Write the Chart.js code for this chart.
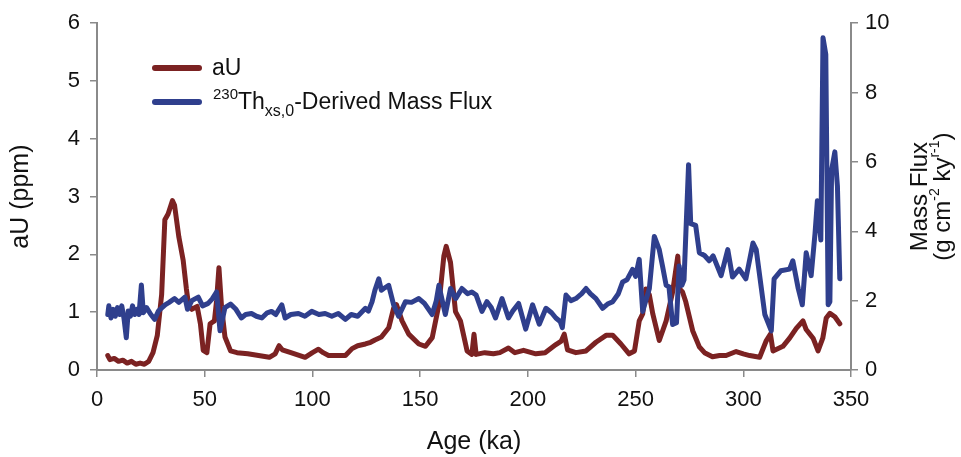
<!DOCTYPE html>
<html>
<head>
<meta charset="utf-8">
<script src="https://cdn.jsdelivr.net/npm/chart.js@4.4.1/dist/chart.umd.min.js"></script>
<style>
  html, body { margin: 0; padding: 0; background: #fff; }
  #wrap { width: 961px; height: 457px; }
</style>
</head>
<body>
<div id="wrap"><canvas id="chart" width="961" height="457"></canvas></div>
<script>
// aU record (ppm) vs age (ka)
const auAge = [5, 6, 8, 10, 12, 14, 16, 18, 20, 22, 24, 26, 28, 30, 31.5, 33, 35, 36, 38, 40,
  41.5, 42.5, 44, 46.5, 48, 49.3, 51, 52.5, 54.5, 55.5, 56.6, 57.8, 59.4, 62, 65, 70, 75, 80, 82.7, 84.5,
  86, 90, 96.6, 100, 102.8, 105, 107.5, 112, 115.3, 118.4, 121, 124.6, 127, 129, 132, 135.4, 137.7, 139, 141.6, 144.7,
  149.4, 152.5, 155.6, 158.7, 161, 162.1, 164.1, 166.4, 168.7, 171.8, 174, 175, 176, 180, 184, 187, 191, 194, 198, 203.7,
  208, 213, 215.5, 216.9, 218.4, 222.3, 227, 231.6, 236.3, 239.4, 243.2, 247, 249.5, 251.7, 253.3, 254.8, 256.4, 258, 261, 264.2,
  267.2, 269.6, 270.5, 271.8, 273.3, 276.5, 279.6, 282, 285.7, 289, 292, 296.7, 300, 303, 307.6, 310.7, 312.6, 313.8, 318.4, 321.5,
  324.6, 327.7, 329.2, 332.4, 334.7, 336.9, 338.5, 340.2, 342.5, 344.8];
const auVal = [0.25, 0.18, 0.2, 0.15, 0.17, 0.12, 0.15, 0.1, 0.12, 0.1, 0.15, 0.3, 0.6, 1.3, 2.6, 2.7, 2.93, 2.85, 2.3, 1.9,
  1.4, 1.13, 1.05, 1.1, 0.8, 0.34, 0.3, 0.8, 0.85, 1.2, 1.77, 1.1, 0.57, 0.33, 0.3, 0.28, 0.25, 0.22, 0.28, 0.42,
  0.35, 0.3, 0.22, 0.3, 0.36, 0.3, 0.25, 0.25, 0.25, 0.37, 0.42, 0.45, 0.48, 0.52, 0.57, 0.73, 1.07, 1.13, 0.85, 0.62,
  0.45, 0.41, 0.56, 1.13, 1.97, 2.14, 1.86, 1.01, 0.85, 0.33, 0.27, 0.62, 0.27, 0.3, 0.28, 0.3, 0.38, 0.3, 0.34, 0.28,
  0.3, 0.44, 0.5, 0.62, 0.35, 0.3, 0.33, 0.48, 0.6, 0.6, 0.45, 0.28, 0.33, 0.85, 0.97, 1.4, 1.3, 0.97, 0.51, 0.85,
  1.35, 1.97, 1.4, 1.35, 1.18, 0.68, 0.4, 0.3, 0.23, 0.25, 0.25, 0.32, 0.28, 0.25, 0.22, 0.51, 0.62, 0.33, 0.41, 0.55,
  0.72, 0.85, 0.7, 0.55, 0.33, 0.55, 0.9, 0.98, 0.92, 0.8];

// 230Th-derived mass flux (g cm-2 kyr-1) vs age (ka)
const fluxAge = [5, 5.5, 6.5, 7.5, 8.5, 9.5, 10.5, 11.5, 12.5, 13.6, 14.5, 15.5, 16.5, 17.5, 18.5, 19.5, 20.6, 21.5, 23, 25,
  26.8, 28.5, 31.6, 33.5, 36, 38, 40.8, 42, 44, 47, 49, 51.6, 53.5, 55.5, 57.1, 59.4, 62, 64.5, 67, 69,
  71.7, 74, 76.5, 79, 81, 83, 85.8, 87.3, 90, 93.5, 96.5, 99.7, 103, 105.9, 109, 112, 115.3, 118, 121, 124.6,
  126, 127.7, 129, 130.8, 132, 133.1, 135.4, 137.7, 140, 143.2, 146, 149.4, 152, 155.6, 157.5, 158.7, 161.7, 164.1, 166.5, 169.4,
  172, 174, 176, 178.7, 181, 183, 185, 188, 191, 193, 195.7, 199, 202.2, 205.3, 208.4, 211, 213, 215, 216, 217.7,
  220, 222.3, 225, 227, 229, 231.6, 234.7, 237, 239.4, 242, 244, 246, 248.6, 250, 251.7, 253.3, 256.4, 258.7, 261, 262.5,
  264.2, 265.5, 267.2, 269, 270.2, 271.5, 272.5, 274.6, 275.6, 277.9, 279.6, 282, 284.2, 286, 289.7, 292.8, 295, 298.1, 301.2, 304.5,
  306, 310, 313, 314.3, 317.4, 321.5, 323, 325.5, 327.4, 329.2, 331.5, 333.3, 334.4, 336, 337, 338.3, 339.4, 340.2, 341, 342.5,
  343.7, 344.8];
const fluxVal = [1.6, 1.85, 1.5, 1.75, 1.55, 1.8, 1.6, 1.85, 1.5, 0.93, 1.7, 1.55, 1.85, 1.6, 1.75, 1.6, 2.45, 1.65, 1.8, 1.6,
  1.46, 1.7, 1.88, 1.95, 2.06, 1.95, 2.1, 1.75, 2.0, 2.1, 1.85, 1.92, 2.05, 2.25, 1.13, 1.8, 1.9, 1.75, 1.5, 1.6,
  1.63, 1.55, 1.5, 1.65, 1.69, 1.6, 1.88, 1.5, 1.6, 1.63, 1.55, 1.69, 1.6, 1.63, 1.55, 1.63, 1.46, 1.6, 1.55, 1.78,
  1.7, 1.97, 2.3, 2.63, 2.3, 2.35, 2.44, 1.88, 1.55, 1.97, 1.95, 2.06, 1.92, 1.6, 2.0, 2.44, 1.6, 2.35, 2.06, 2.35,
  2.2, 2.25, 2.16, 1.69, 1.97, 1.8, 1.5, 2.06, 1.5, 1.7, 1.92, 1.18, 1.88, 1.32, 1.78, 1.65, 1.5, 1.4, 1.22, 2.16,
  2.0, 2.06, 2.2, 2.35, 2.2, 2.06, 1.78, 1.9, 1.97, 2.2, 2.54, 2.6, 2.9, 2.7, 3.19, 1.69, 2.35, 3.85, 3.47, 3.0,
  2.44, 2.4, 1.31, 1.36, 3.0, 2.44, 2.6, 5.92, 4.22, 4.17, 3.38, 3.3, 3.15, 3.29, 2.72, 3.47, 2.68, 2.91, 2.63, 3.66,
  3.47, 1.6, 1.13, 2.63, 2.86, 2.91, 3.15, 2.35, 1.88, 3.38, 2.72, 3.94, 4.88, 3.75, 9.58, 9.1, 1.88, 1.97, 5.77, 6.29,
  5.3, 2.63];

const xTicks = [0, 50, 100, 150, 200, 250, 300, 350];
const auTicks = [0, 1, 2, 3, 4, 5, 6];
const fluxTicks = [0, 2, 4, 6, 8, 10];

const RED = '#7b2222';
const BLUE = '#2f3f8d';
const AXIS = '#8a8a8a';
const FONT = "'Liberation Sans', Arial, sans-serif";

const toPoints = (xs, ys) => xs.map((x, i) => ({ x: x, y: ys[i] }));

// draw a run of text pieces with super/subscripts
const drawRich = (ctx, parts, x, y) => {
    let cx = x;
    parts.forEach(p => {
        ctx.font = p.size + 'px ' + FONT;
        ctx.fillText(p.text, cx, y + (p.dy || 0));
        cx += ctx.measureText(p.text).width;
    });
};
const richWidth = (ctx, parts) => parts.reduce((w, p) => {
    ctx.font = p.size + 'px ' + FONT;
    return w + ctx.measureText(p.text).width;
}, 0);

const extras = {
    id: 'extras',
    afterDraw(chart) {
        const ctx = chart.ctx;
        ctx.save();
        ctx.fillStyle = '#111';
        ctx.textBaseline = 'middle';
        ctx.textAlign = 'left';

        // legend
        ctx.lineCap = 'round';
        ctx.lineWidth = 6;
        ctx.strokeStyle = RED;
        ctx.beginPath(); ctx.moveTo(155, 68); ctx.lineTo(199, 68); ctx.stroke();
        ctx.strokeStyle = BLUE;
        ctx.beginPath(); ctx.moveTo(155, 102); ctx.lineTo(199, 102); ctx.stroke();
        drawRich(ctx, [{ text: 'aU', size: 23 }], 212, 69);
        drawRich(ctx, [
            { text: '230', size: 15, dy: -8 },
            { text: 'Th', size: 23 },
            { text: 'xs,0', size: 16, dy: 9 },
            { text: '-Derived Mass Flux', size: 23 }
        ], 213, 103);

        // right axis title, rotated
        const line1 = [{ text: 'Mass Flux', size: 24 }];
        const line2 = [
            { text: '(g cm', size: 24 },
            { text: '-2', size: 14, dy: -8 },
            { text: ' ky', size: 24 },
            { text: 'r-1', size: 14, dy: -8 },
            { text: ')', size: 24 }
        ];
        const cy = (chart.chartArea.top + chart.chartArea.bottom) / 2;
        [[line1, 920], [line2, 943]].forEach(([parts, px]) => {
            ctx.save();
            ctx.translate(px, cy);
            ctx.rotate(-Math.PI / 2);
            drawRich(ctx, parts, -richWidth(ctx, parts) / 2, 0);
            ctx.restore();
        });
        ctx.restore();
    }
};

const tickFont = { family: FONT, size: 22 };
const titleFont = { family: FONT, size: 25 };

new Chart(document.getElementById('chart'), {
    type: 'line',
    data: {
        datasets: [{
            label: 'aU',
            data: toPoints(auAge, auVal),
            yAxisID: 'y',
            borderColor: RED,
            borderWidth: 5,
            pointRadius: 0,
            tension: 0,
            borderJoinStyle: 'round',
            borderCapStyle: 'round',
            order: 1
        }, {
            label: '230Th-Derived Mass Flux',
            data: toPoints(fluxAge, fluxVal),
            yAxisID: 'y1',
            borderColor: BLUE,
            borderWidth: 5,
            pointRadius: 0,
            tension: 0,
            borderJoinStyle: 'round',
            borderCapStyle: 'round',
            order: 0
        }]
    },
    options: {
        responsive: false,
        animation: false,
        layout: { padding: { top: 15, left: 0, right: 0, bottom: 0 } },
        plugins: {
            legend: { display: false },
            tooltip: { enabled: false }
        },
        scales: {
            x: {
                type: 'linear',
                min: 0,
                max: 350,
                afterBuildTicks: (s) => { s.ticks = xTicks.map(v => ({ value: v })); },
                afterFit: (s) => { s.height = 87; },
                border: { color: AXIS, width: 2 },
                grid: { drawOnChartArea: false, color: AXIS, tickLength: 7, lineWidth: 1.5 },
                ticks: { color: '#111', font: tickFont, padding: 10, maxRotation: 0 },
                title: { display: true, text: 'Age (ka)', color: '#111', font: titleFont, padding: { top: 0, bottom: 0 } }
            },
            y: {
                position: 'left',
                min: 0,
                max: 6,
                afterBuildTicks: (s) => { s.ticks = auTicks.map(v => ({ value: v })); },
                afterFit: (s) => { s.width = 97; },
                border: { color: AXIS, width: 2 },
                grid: { drawOnChartArea: false, color: AXIS, tickLength: 7, lineWidth: 1.5 },
                ticks: { color: '#111', font: tickFont, padding: 10 },
                title: { display: true, text: 'aU (ppm)', color: '#111', font: titleFont, padding: { top: 6, bottom: 0 } }
            },
            y1: {
                position: 'right',
                min: 0,
                max: 10,
                afterBuildTicks: (s) => { s.ticks = fluxTicks.map(v => ({ value: v })); },
                afterFit: (s) => { s.width = 110; },
                border: { color: AXIS, width: 2 },
                grid: { drawOnChartArea: false, color: AXIS, tickLength: 7, lineWidth: 1.5 },
                ticks: { color: '#111', font: tickFont, padding: 7 }
            }
        }
    },
    plugins: [extras]
});
</script>
</body>
</html>
